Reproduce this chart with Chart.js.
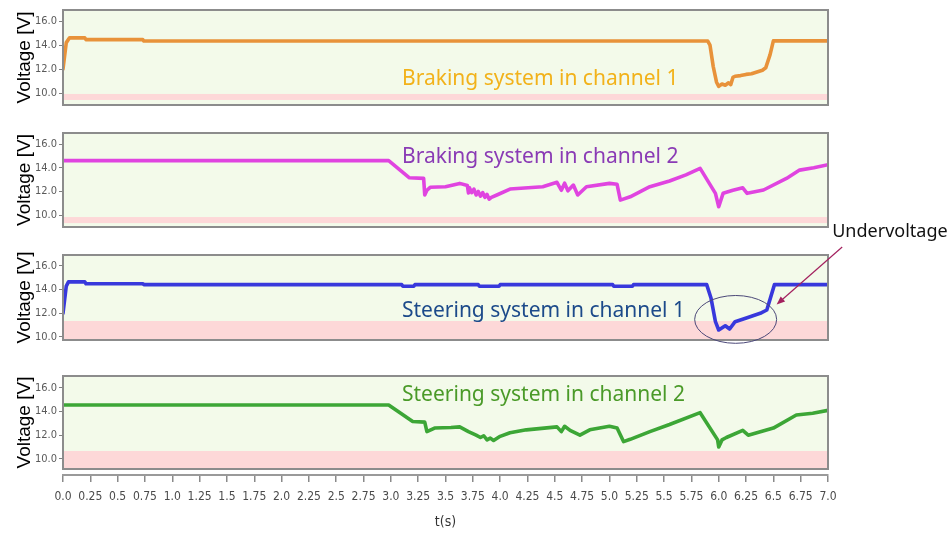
<!DOCTYPE html>
<html>
<head>
<meta charset="utf-8">
<script src="https://cdn.jsdelivr.net/npm/chart.js@4.4.1/dist/chart.umd.min.js"></script>
<style>
  html, body { margin: 0; padding: 0; background: #ffffff; }
  #wrap { position: relative; width: 952px; height: 537px; overflow: hidden; }
  #wrap canvas { position: absolute; left: 0; top: 0; }
</style>
</head>
<body>
<div id="wrap">
  <canvas id="p1" width="952" height="537"></canvas>
  <canvas id="p2" width="952" height="537"></canvas>
  <canvas id="p3" width="952" height="537"></canvas>
  <canvas id="p4" width="952" height="537"></canvas>
  <canvas id="ax" width="952" height="537"></canvas>
</div>
<script>
// ---- Measured supply voltage over time (seconds, volts) ----
const timeBrakeCh1 = [0, 0.03, 0.06, 0.20, 0.21, 0.73, 0.74, 5.90, 5.92, 5.95, 5.98, 6.00, 6.03, 6.06, 6.09, 6.11, 6.13, 6.15, 6.20, 6.25, 6.30, 6.35, 6.40, 6.43, 6.47, 6.50, 7.00];
const voltBrakeCh1 = [12.0, 14.2, 14.6, 14.6, 14.45, 14.45, 14.33, 14.33, 14.0, 12.2, 10.9, 10.55, 10.75, 10.65, 10.85, 10.7, 11.3, 11.4, 11.45, 11.55, 11.6, 11.75, 11.9, 12.1, 13.2, 14.35, 14.35];

const timeBrakeCh2 = [0, 2.98, 3.17, 3.30, 3.31, 3.33, 3.36, 3.50, 3.63, 3.70, 3.71, 3.72, 3.74, 3.76, 3.78, 3.80, 3.82, 3.84, 3.86, 3.88, 3.90, 3.92, 3.97, 4.09, 4.39, 4.52, 4.56, 4.59, 4.62, 4.67, 4.71, 4.79, 5.00, 5.07, 5.10, 5.19, 5.37, 5.55, 5.70, 5.83, 5.97, 6.00, 6.04, 6.13, 6.22, 6.26, 6.41, 6.62, 6.74, 6.87, 7.00];
const voltBrakeCh2 = [14.6, 14.6, 13.15, 13.1, 11.7, 12.1, 12.35, 12.4, 12.68, 12.5, 11.87, 12.3, 11.9, 12.2, 11.7, 12.0, 11.6, 11.9, 11.5, 11.75, 11.35, 11.5, 11.7, 12.2, 12.4, 12.77, 12.1, 12.7, 12.05, 12.54, 11.7, 12.4, 12.68, 12.6, 11.27, 11.55, 12.4, 12.88, 13.4, 13.95, 11.84, 10.71, 11.84, 12.1, 12.31, 11.84, 12.12, 13.1, 13.8, 14.0, 14.25];

const timeSteerCh1 = [0, 0.03, 0.05, 0.20, 0.21, 0.73, 0.74, 3.10, 3.11, 3.21, 3.22, 3.80, 3.81, 3.99, 4.00, 5.03, 5.04, 5.21, 5.22, 5.89, 5.93, 5.97, 6.00, 6.06, 6.10, 6.15, 6.26, 6.38, 6.44, 6.51, 7.00];
const voltSteerCh1 = [12.0, 14.3, 14.65, 14.65, 14.5, 14.5, 14.42, 14.42, 14.28, 14.28, 14.42, 14.42, 14.28, 14.28, 14.42, 14.42, 14.28, 14.28, 14.42, 14.42, 13.26, 11.28, 10.58, 10.94, 10.66, 11.28, 11.62, 11.99, 12.27, 14.42, 14.42];

const timeSteerCh2 = [0, 2.98, 3.20, 3.31, 3.33, 3.40, 3.55, 3.63, 3.71, 3.78, 3.82, 3.85, 3.88, 3.91, 3.94, 4.00, 4.09, 4.24, 4.52, 4.56, 4.59, 4.64, 4.73, 4.82, 5.00, 5.07, 5.13, 5.19, 5.37, 5.55, 5.83, 5.99, 6.00, 6.03, 6.07, 6.22, 6.27, 6.50, 6.71, 6.86, 7.00];
const voltSteerCh2 = [14.55, 14.55, 13.15, 13.1, 12.3, 12.6, 12.65, 12.7, 12.3, 12.0, 11.8, 11.95, 11.6, 11.75, 11.55, 11.9, 12.2, 12.45, 12.7, 12.3, 12.75, 12.4, 12.0, 12.45, 12.75, 12.6, 11.45, 11.65, 12.3, 12.9, 13.9, 11.6, 11.0, 11.6, 11.8, 12.4, 12.0, 12.6, 13.7, 13.85, 14.1];

// Undervoltage warning band per channel (low, high) in volts
const bandLow  = [9.42, 9.33, 9.0, 9.0];
const bandHigh = [9.92, 9.84, 11.34, 10.66];

// Tick labels
const yTicks = [10, 12, 14, 16];
const xTicks = [0, 0.25, 0.5, 0.75, 1, 1.25, 1.5, 1.75, 2, 2.25, 2.5, 2.75, 3, 3.25, 3.5, 3.75, 4, 4.25, 4.5, 4.75, 5, 5.25, 5.5, 5.75, 6, 6.25, 6.5, 6.75, 7];

const panelTitles = ['Braking system in channel 1', 'Braking system in channel 2', 'Steering system in channel 1', 'Steering system in channel 2'];

// ---- Layout and styling ----
const W = 952, H = 537;
const PLOT_LEFT = 63, PLOT_RIGHT = 828;
const NARROW = "'Liberation Sans Narrow', 'DejaVu Sans Condensed', sans-serif";

const panels = [
  { id: 'p1', t: timeBrakeCh1, v: voltBrakeCh1, color: '#e8923a', top: 10,  bottom: 105, yMin: 9.0,  yMax: 16.92,
    titleColor: '#f2b21a', titleX: 402, titleY: 85,  titleW: 280 },
  { id: 'p2', t: timeBrakeCh2, v: voltBrakeCh2, color: '#e044e0', top: 133, bottom: 227, yMin: 9.0,  yMax: 16.93,
    titleColor: '#8a3bb5', titleX: 402, titleY: 163, titleW: 280 },
  { id: 'p3', t: timeSteerCh1, v: voltSteerCh1, color: '#3838dc', top: 255, bottom: 340, yMin: 9.73, yMax: 16.93,
    titleColor: '#1c4a8a', titleX: 402, titleY: 317, titleW: 286, note: true },
  { id: 'p4', t: timeSteerCh2, v: voltSteerCh2, color: '#3ca636', top: 376, bottom: 469, yMin: 9.14, yMax: 17.0,
    titleColor: '#4a9a28', titleX: 402, titleY: 401, titleW: 286 }
];

// Green plot background with the red undervoltage band, framed by a grey box
const backdrop = {
  id: 'backdrop',
  beforeDraw(chart, args, opts) {
    const { ctx, chartArea: a, scales: { y } } = chart;
    ctx.save();
    ctx.fillStyle = '#f3faea';
    ctx.fillRect(a.left, a.top, a.right - a.left, a.bottom - a.top);
    const yTop = Math.max(a.top, y.getPixelForValue(opts.high));
    const yBot = Math.min(a.bottom, y.getPixelForValue(opts.low));
    ctx.fillStyle = '#fdd8d8';
    ctx.fillRect(a.left, yTop, a.right - a.left, yBot - yTop);
    ctx.restore();
  },
  afterDraw(chart, args, opts) {
    const { ctx, chartArea: a } = chart;
    ctx.save();
    ctx.strokeStyle = '#8c8c8c';
    ctx.lineWidth = 2;
    ctx.strokeRect(a.left, a.top, a.right - a.left, a.bottom - a.top);
    ctx.fillStyle = opts.titleColor;
    ctx.font = "21px 'Noto Sans', sans-serif";
    ctx.textBaseline = 'alphabetic';
    ctx.textAlign = 'left';
    ctx.fillText(opts.title, opts.titleX, opts.titleY, opts.titleW);
    ctx.restore();
  }
};

// Highlight of the dip below the limit, with its callout
const callout = {
  id: 'callout',
  afterDraw(chart, args, opts) {
    if (!opts.show) return;
    const { ctx, scales: { x, y } } = chart;
    ctx.save();
    // ellipse around the dip (time 5.78 s .. 6.53 s, 9.45 V .. 13.5 V)
    const x0 = x.getPixelForValue(5.78), x1 = x.getPixelForValue(6.53);
    const y0 = y.getPixelForValue(13.5), y1 = y.getPixelForValue(9.45);
    ctx.strokeStyle = '#4b4878';
    ctx.lineWidth = 1;
    ctx.beginPath();
    ctx.ellipse((x0 + x1) / 2, (y0 + y1) / 2, (x1 - x0) / 2, (y1 - y0) / 2, 0, 0, Math.PI * 2);
    ctx.stroke();
    // arrow from the caption down to the recovering edge
    const tx = x.getPixelForValue(6.53), ty = y.getPixelForValue(12.74);
    const sx = x.getPixelForValue(7.13), sy = y.getPixelForValue(17.61);
    const ang = Math.atan2(ty - sy, tx - sx);
    const head = 9;
    ctx.strokeStyle = '#a3205e';
    ctx.fillStyle = '#a3205e';
    ctx.lineWidth = 1.2;
    ctx.beginPath();
    ctx.moveTo(sx, sy);
    ctx.lineTo(tx - Math.cos(ang) * head * 0.8, ty - Math.sin(ang) * head * 0.8);
    ctx.stroke();
    ctx.beginPath();
    ctx.moveTo(tx, ty);
    ctx.lineTo(tx - head * Math.cos(ang - 0.38), ty - head * Math.sin(ang - 0.38));
    ctx.lineTo(tx - head * Math.cos(ang + 0.38), ty - head * Math.sin(ang + 0.38));
    ctx.closePath();
    ctx.fill();
    // caption
    ctx.fillStyle = '#111111';
    ctx.font = "18px 'Noto Sans', sans-serif";
    ctx.textAlign = 'left';
    ctx.textBaseline = 'alphabetic';
    ctx.fillText('Undervoltage', sx - 10, sy - 10, 120);
    ctx.restore();
  }
};

panels.forEach((p, i) => {
  const pts = p.t.map((t, k) => ({ x: t, y: p.v[k] }));
  new Chart(document.getElementById(p.id), {
    type: 'line',
    data: {
      datasets: [{
        data: pts,
        borderColor: p.color,
        borderWidth: 3.6,
        pointRadius: 0,
        tension: 0,
        fill: false,
        borderJoinStyle: 'round',
        borderCapStyle: 'round'
      }]
    },
    options: {
      responsive: false,
      animation: false,
      events: [],
      layout: { padding: { top: p.top, bottom: H - p.bottom, left: 0, right: W - PLOT_RIGHT } },
      plugins: {
        legend: { display: false },
        tooltip: { enabled: false },
        backdrop: { low: bandLow[i], high: bandHigh[i], title: panelTitles[i],
                    titleColor: p.titleColor, titleX: p.titleX, titleY: p.titleY, titleW: p.titleW },
        callout: { show: !!p.note }
      },
      scales: {
        x: { type: 'linear', min: 0, max: 7, display: false },
        y: {
          type: 'linear', min: p.yMin, max: p.yMax,
          afterBuildTicks: s => { s.ticks = yTicks.map(v => ({ value: v })); },
          afterFit: s => { s.width = PLOT_LEFT; },
          border: { display: false },
          grid: { drawOnChartArea: false, drawTicks: true, tickLength: 4, color: '#808080', lineWidth: 1 },
          ticks: {
            color: '#5a5a5a', padding: 2,
            font: { family: NARROW, size: 11 },
            callback: v => Number(v).toFixed(1)
          },
          title: {
            display: true, text: 'Voltage [V]', color: '#000000',
            font: { family: "'Liberation Sans', Arial, sans-serif", size: 19 },
            padding: { top: 13, bottom: 0 }
          }
        }
      }
    },
    plugins: [backdrop, callout]
  });
});

// Shared time axis under the panels
new Chart(document.getElementById('ax'), {
  type: 'line',
  data: { datasets: [] },
  options: {
    responsive: false,
    animation: false,
    events: [],
    layout: { padding: { top: 470, bottom: 0, left: PLOT_LEFT, right: W - PLOT_RIGHT } },
    plugins: { legend: { display: false }, tooltip: { enabled: false } },
    scales: {
      y: { display: false, min: 0, max: 1 },
      x: {
        type: 'linear', min: 0, max: 7, position: 'bottom',
        afterBuildTicks: s => { s.ticks = xTicks.map(v => ({ value: v })); },
        afterFit: s => { s.height = H - 475; },
        border: { display: true, color: '#9a9a9a', width: 2 },
        grid: { drawOnChartArea: false, drawTicks: true, tickLength: 7, color: '#8a8a8a', lineWidth: 1.5 },
        ticks: {
          autoSkip: false, maxRotation: 0, minRotation: 0,
          color: '#4a4a4a', padding: 8,
          font: { family: NARROW, size: 12 },
          callback: v => Number.isInteger(v) ? v.toFixed(1) : String(v)
        },
        title: {
          display: true, text: 't(s)', color: '#333333',
          font: { family: NARROW, size: 14 },
          padding: { top: 0, bottom: 6 }
        }
      }
    }
  }
});
</script>
</body>
</html>
